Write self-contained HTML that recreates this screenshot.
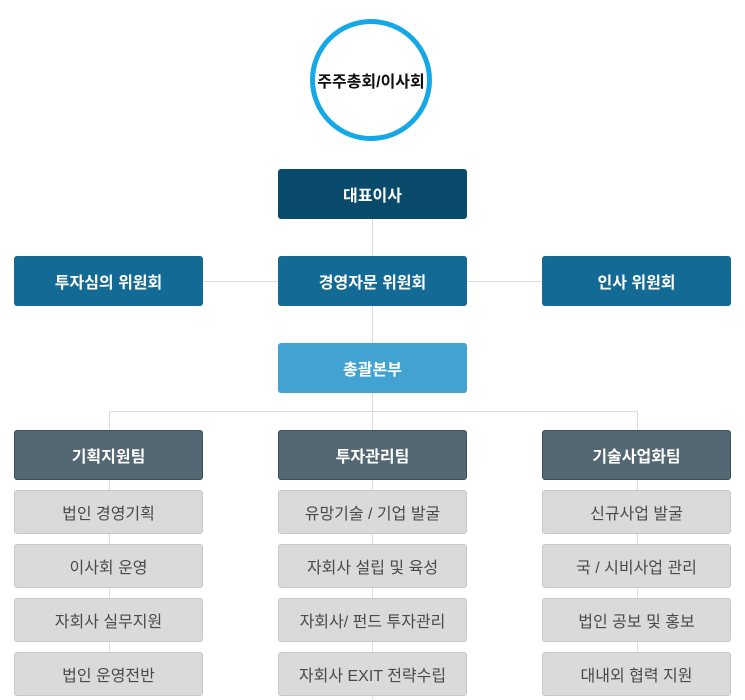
<!DOCTYPE html>
<html><head><meta charset="utf-8"><style>
body{margin:0;width:745px;height:700px;background:#fff;position:relative;overflow:hidden;font-family:"Liberation Sans","Noto Sans CJK KR",sans-serif}
.l{position:absolute;background:#dcdcdc}
.b{position:absolute;width:189px;display:flex;align-items:center;justify-content:center;border-radius:3px;box-sizing:border-box;font-size:16px;color:#fff;font-weight:bold}
.g{background:#dadada;border:1px solid #c8c8c8;color:#4a4a4a;font-weight:normal;height:44px}
.t{background:#536873;border:1px solid #3d4f58;height:50px}
.c{position:absolute;left:310px;top:19px;width:122px;height:122px;border:5px solid #15a8e6;border-radius:50%;box-sizing:border-box;display:flex;align-items:center;justify-content:center;font-size:16px;font-weight:bold;color:#111}
</style></head><body>
<div class="l" style="left:372px;top:219px;width:1px;height:480px"></div>
<div class="l" style="left:203px;top:281px;width:339px;height:1px"></div>
<div class="l" style="left:109px;top:411px;width:529px;height:1px"></div>
<div class="l" style="left:109px;top:411px;width:1px;height:285px"></div>
<div class="l" style="left:637px;top:411px;width:1px;height:285px"></div>
<div class="c">주주총회/이사회</div>
<div class="b" style="left:278px;top:169px;height:50px;background:#0a4a6a">대표이사</div>
<div class="b" style="left:14px;top:256px;height:50px;background:#136a94">투자심의 위원회</div>
<div class="b" style="left:278px;top:256px;height:50px;background:#136a94">경영자문 위원회</div>
<div class="b" style="left:542px;top:256px;height:50px;background:#136a94">인사 위원회</div>
<div class="b" style="left:278px;top:343px;height:50px;background:#42a2d2">총괄본부</div>
<div class="b t" style="left:14px;top:430px">기획지원팀</div>
<div class="b t" style="left:278px;top:430px">투자관리팀</div>
<div class="b t" style="left:542px;top:430px">기술사업화팀</div>
<div class="b g" style="left:14px;top:490px">법인 경영기획</div>
<div class="b g" style="left:14px;top:544px">이사회 운영</div>
<div class="b g" style="left:14px;top:598px">자회사 실무지원</div>
<div class="b g" style="left:14px;top:652px">법인 운영전반</div>
<div class="b g" style="left:278px;top:490px">유망기술 / 기업 발굴</div>
<div class="b g" style="left:278px;top:544px">자회사 설립 및 육성</div>
<div class="b g" style="left:278px;top:598px">자회사/ 펀드 투자관리</div>
<div class="b g" style="left:278px;top:652px">자회사 EXIT 전략수립</div>
<div class="b g" style="left:542px;top:490px">신규사업 발굴</div>
<div class="b g" style="left:542px;top:544px">국 / 시비사업 관리</div>
<div class="b g" style="left:542px;top:598px">법인 공보 및 홍보</div>
<div class="b g" style="left:542px;top:652px">대내외 협력 지원</div>
</body></html>
